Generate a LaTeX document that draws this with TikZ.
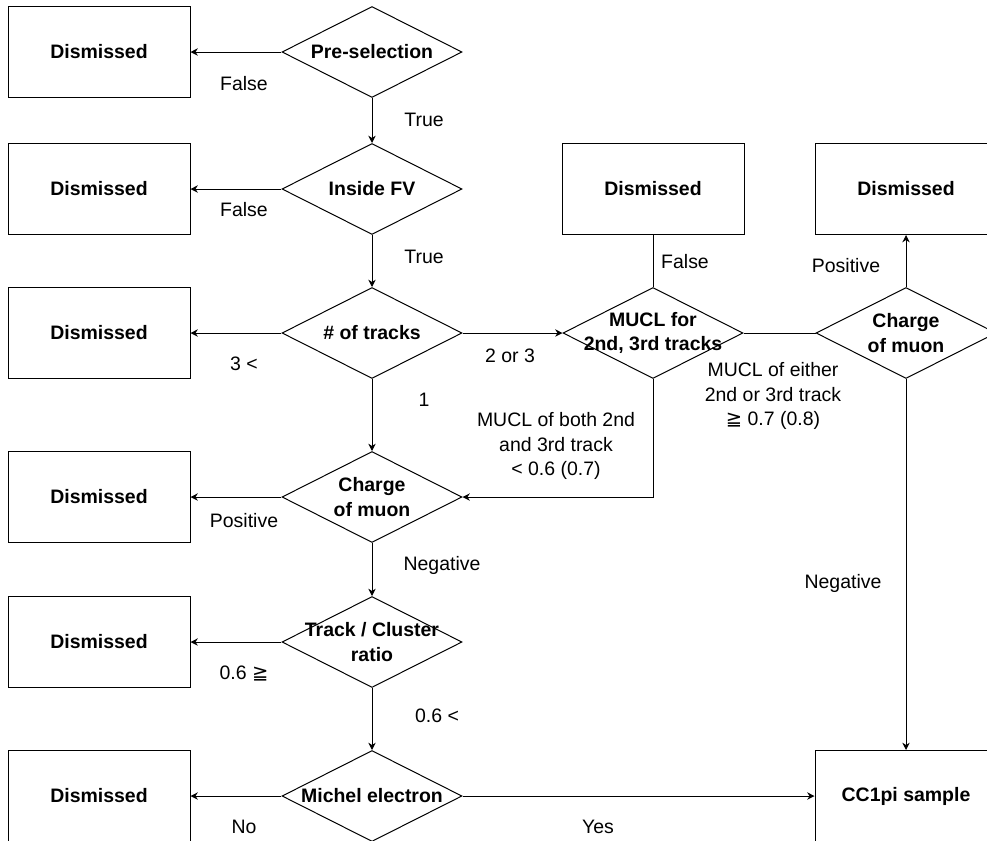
\documentclass[tikz,border=0pt]{standalone}
\usepackage{fontspec}
\setmainfont{Liberation Sans}
\newfontfamily\symfont{DejaVu Sans}
\usepackage{tikz}
\usetikzlibrary{arrows.meta,shapes.geometric}

\begin{document}
\begin{tikzpicture}[x=0.75pt,y=-0.75pt,line width=0.75pt,
  every node/.style={font=\fontsize{14.6}{18.4}\selectfont},
  box/.style={draw,rectangle,minimum width=136.5pt,minimum height=68.25pt,
    font=\fontsize{14.6}{18.4}\selectfont\bfseries},
  decision/.style={draw,diamond,minimum width=135pt,minimum height=68.25pt,inner sep=0pt},
  dtext/.style={font=\fontsize{14.6}{18.4}\selectfont\bfseries,align=center,inner sep=0pt},
  flow/.style={-{Stealth[length=5.5pt,width=5.5pt]}}]
  \clip (0,0) rectangle (987,840);
  \node[box] (dis1) at (99,52) {Dismissed};
  \node[box] (dis2) at (99,189) {Dismissed};
  \node[box] (dis3) at (99,333) {Dismissed};
  \node[box] (dis4) at (99,497) {Dismissed};
  \node[box] (dis5) at (99,642) {Dismissed};
  \node[box] (dis6) at (99,796) {Dismissed};
  \node[box] (dis7) at (653,189) {Dismissed};
  \node[box] (dis8) at (906,189) {Dismissed};
  \node[box] (cc1pi) at (906,796) {CC1pi sample};
  \node[decision,label={[dtext]center:Pre-selection}] (pre) at (372,52) {};
  \node[decision,label={[dtext]center:Inside FV}] (fv) at (372,189) {};
  \node[decision,label={[dtext]center:\# of tracks}] (ntr) at (372,333) {};
  \node[decision,label={[dtext]center:{Charge\\of muon}}] (chg1) at (372,497) {};
  \node[decision,label={[dtext]center:{Track / Cluster\\ratio}}] (trk) at (372,642) {};
  \node[decision,label={[dtext]center:Michel electron}] (mich) at (372,796) {};
  \node[decision,label={[dtext]center:{MUCL for\\2nd, 3rd tracks}}] (mucl) at (653,333) {};
  \node[decision,label={[dtext]center:{Charge\\of muon}}] (chg2) at (906,333) {};
  \draw[flow] (pre) -- (dis1);
  \draw[flow] (pre) -- (fv);
  \draw[flow] (fv) -- (dis2);
  \draw[flow] (fv) -- (ntr);
  \draw[flow] (ntr) -- (dis3);
  \draw[flow] (ntr) -- (mucl);
  \draw[flow] (ntr) -- (chg1);
  \draw (mucl) -- (dis7);
  \draw (mucl) -- (chg2);
  \draw[flow] (mucl) |- (chg1);
  \draw[flow] (chg2) -- (dis8);
  \draw[flow] (chg2) -- (cc1pi);
  \draw[flow] (chg1) -- (dis4);
  \draw[flow] (chg1) -- (trk);
  \draw[flow] (trk) -- (dis5);
  \draw[flow] (trk) -- (mich);
  \draw[flow] (mich) -- (dis6);
  \draw[flow] (mich) -- (cc1pi);
  \node (lpre) at (244,84) {False};
  \node (lpret) at (424,120) {True};
  \node (lfv) at (244,210) {False};
  \node (lfvt) at (424,257) {True};
  \node (lntr) at (244,364) {3 <};
  \node (lntrm) at (510,356) {2 or 3};
  \node (lntro) at (424,400) {1};
  \node (lmucl) at (685,262) {False};
  \node[align=center] (lmuclr) at (773,396) {MUCL of either\\2nd or 3rd track\\{\symfont ≧} 0.7 (0.8)};
  \node[align=center] (lmucld) at (556,446) {MUCL of both 2nd\\and 3rd track\\< 0.6 (0.7)};
  \node (lchgp) at (846,266) {Positive};
  \node (lchgn) at (843,583) {Negative};
  \node (lchg1p) at (244,521) {Positive};
  \node (lchg1n) at (442,565) {Negative};
  \node (ltrk) at (244,673) {0.6 {\symfont ≧}};
  \node (ltrkt) at (437,716) {0.6 <};
  \node (lmich) at (244,827) {No};
  \node (lmichy) at (598,827) {Yes};
\end{tikzpicture}
\end{document}
